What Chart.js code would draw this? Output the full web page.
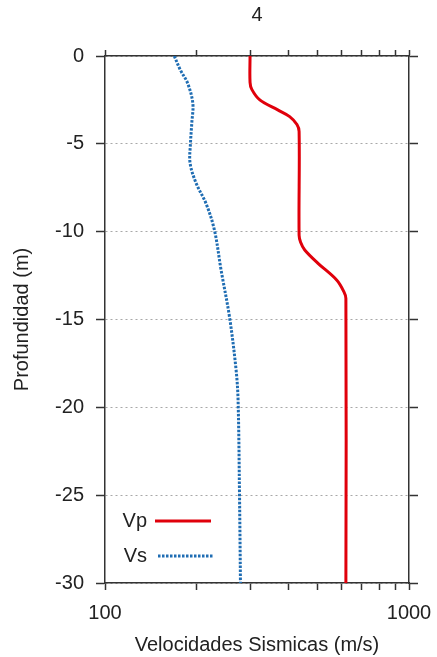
<!DOCTYPE html>
<html>
<head>
<meta charset="utf-8">
<script src="https://cdn.jsdelivr.net/npm/chart.js@4/dist/chart.umd.min.js"></script>
<style>
  html, body { margin: 0; padding: 0; background: #fff; }
  #wrap { width: 437px; height: 657px; }
</style>
</head>
<body>
<div id="wrap"><canvas id="chart" width="437" height="657"></canvas></div>
<script>
// depth (m, positive down) and velocity (m/s)
const vpDepth = [0, 1.5, 1.9, 2.5, 3.07, 3.45, 3.9, 4.3, 10.2, 10.6, 11.04, 11.8, 12.75, 13.4, 13.8, 30];
const vpSpeed = [300, 300, 304, 323, 370, 405, 428, 435, 435, 440, 454, 502, 578, 610, 620, 620];

const vsDepth = [0, 0.8, 1.55, 2.7, 3.8, 5.0, 6.1, 7.25, 8.4, 9.9, 12.2, 14.9, 17.9, 19.6, 25, 30];
const vsSpeed = [169, 177, 187, 194.5, 193, 191, 190.5, 199.5, 215, 229, 241, 257, 270, 274, 277, 279];

const yTicks = [0, -5, -10, -15, -20, -25, -30];
const xTicks = [100, 200, 300, 400, 500, 600, 700, 800, 900, 1000];
const xLabels = [100, 1000];

const FONT = '"Liberation Sans", Arial, Helvetica, sans-serif';
const AXIS = '#333';
const TEXT = '#222';

function toPoints(depths, speeds) {
  return depths.map((d, i) => ({ x: speeds[i], y: -d }));
}

// fixed box size, no extra room for the end labels
function fixHeight(h) {
  return s => {
    s.height = h;
    s.paddingLeft = 0;
    s.paddingRight = 0;
  };
}

const insideLegend = {
  id: 'insideLegend',
  afterDraw(chart) {
    const { ctx, chartArea } = chart;
    const rows = [chart.data.datasets[0], chart.data.datasets[1]];
    const offsets = [62, 27];
    ctx.save();
    ctx.font = '20px ' + FONT;
    ctx.fillStyle = TEXT;
    ctx.textAlign = 'right';
    ctx.textBaseline = 'middle';
    rows.forEach((ds, i) => {
      const y = chartArea.bottom - offsets[i];
      ctx.fillText(ds.label, chartArea.left + 42, y);
      ctx.beginPath();
      ctx.strokeStyle = ds.borderColor;
      ctx.lineWidth = ds.borderWidth;
      ctx.setLineDash(ds.borderDash || []);
      ctx.moveTo(chartArea.left + 50 + (i ? 3 : 0), y);
      ctx.lineTo(chartArea.left + 106 + (i ? 3 : 0), y);
      ctx.stroke();
    });
    ctx.restore();
  }
};

new Chart(document.getElementById('chart'), {
  type: 'scatter',
  data: {
    datasets: [
      {
        label: 'Vp',
        data: toPoints(vpDepth, vpSpeed),
        showLine: true,
        borderColor: '#e0000b',
        borderWidth: 3,
        pointRadius: 0,
        tension: 0.35,
        xAxisID: 'x',
        yAxisID: 'y'
      },
      {
        label: 'Vs',
        data: toPoints(vsDepth, vsSpeed),
        showLine: true,
        borderColor: '#1f6db3',
        borderWidth: 3,
        borderDash: [2.5, 1.5],
        pointRadius: 0,
        tension: 0.35,
        xAxisID: 'x',
        yAxisID: 'y'
      }
    ]
  },
  options: {
    responsive: false,
    animation: false,
    layout: { padding: 0, autoPadding: false },
    plugins: {
      legend: { display: false },
      tooltip: { enabled: false },
      title: {
        display: true,
        text: '4',
        fullSize: false,
        color: TEXT,
        font: { family: FONT, size: 20, weight: 'normal' },
        padding: { top: 3, bottom: 9 }
      }
    },
    scales: {
      x: {
        type: 'logarithmic',
        position: 'bottom',
        min: 100,
        max: 1000,
        afterBuildTicks: s => { s.ticks = xTicks.map(v => ({ value: v })); },
        afterFit: fixHeight(74),
        border: { color: AXIS, width: 1.5 },
        grid: { drawOnChartArea: false, drawTicks: true, tickLength: 7, tickColor: AXIS, tickWidth: 1.5 },
        ticks: {
          autoSkip: false,
          maxRotation: 0,
          padding: 11,
          color: TEXT,
          font: { family: FONT, size: 20 },
          callback: v => (xLabels.includes(v) ? String(v) : '')
        },
        title: {
          display: true,
          text: 'Velocidades Sismicas (m/s)',
          color: TEXT,
          font: { family: FONT, size: 20 },
          padding: { top: 1, bottom: 0 }
        }
      },
      x2: {
        type: 'logarithmic',
        position: 'top',
        min: 100,
        max: 1000,
        afterBuildTicks: s => { s.ticks = xTicks.map(v => ({ value: v })); },
        afterFit: fixHeight(20),
        border: { color: AXIS, width: 1.5 },
        grid: { drawOnChartArea: false, drawTicks: true, tickLength: 6, tickColor: AXIS, tickWidth: 1.5 },
        ticks: { autoSkip: false, maxRotation: 0, callback: () => '' }
      },
      y: {
        type: 'linear',
        position: 'left',
        min: -30,
        max: 0,
        afterBuildTicks: s => { s.ticks = yTicks.map(v => ({ value: v })); },
        afterFit: s => { s.width = 105; },
        border: { color: AXIS, width: 1.5, dash: [2, 3] },
        grid: {
          color: '#a8a8a8',
          lineWidth: 1,
          tickColor: AXIS,
          tickWidth: 1.5,
          tickBorderDash: [],
          tickLength: 9,
          drawTicks: true
        },
        ticks: {
          padding: 12,
          color: TEXT,
          font: { family: FONT, size: 20 }
        },
        title: {
          display: true,
          text: 'Profundidad (m)',
          color: TEXT,
          font: { family: FONT, size: 20 },
          padding: { top: 10, bottom: 0 }
        }
      },
      y2: {
        type: 'linear',
        position: 'right',
        min: -30,
        max: 0,
        afterBuildTicks: s => { s.ticks = yTicks.map(v => ({ value: v })); },
        afterFit: s => { s.width = 28; },
        border: { color: AXIS, width: 1.5 },
        grid: { drawOnChartArea: false, drawTicks: true, tickLength: 9, tickColor: AXIS, tickWidth: 1.5 },
        ticks: { display: true, callback: () => '' }
      }
    }
  },
  plugins: [insideLegend]
});
</script>
</body>
</html>
